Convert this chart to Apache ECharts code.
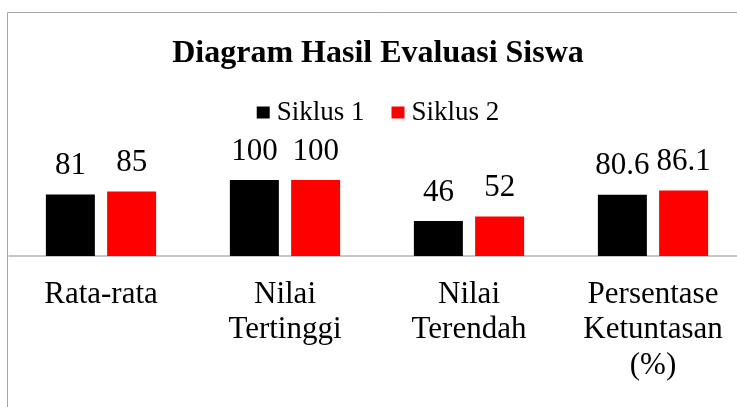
<!DOCTYPE html>
<html><head><meta charset="utf-8">
<script src="https://cdn.jsdelivr.net/npm/echarts@6/dist/echarts.min.js"></script>
<style>html,body{margin:0;padding:0;background:#fff;overflow:hidden}#c{width:756px;height:407px}</style>
</head><body><div id="c"></div>
<script>
const categories = ['Rata-rata', 'Nilai\nTertinggi', 'Nilai\nTerendah', 'Persentase\nKetuntasan\n(%)'];
const siklus1 = [81, 100, 46, 80.6];
const siklus2 = [85, 100, 52, 86.1];
const seriesNames = ['Siklus 1', 'Siklus 2'];
const titleText = 'Diagram Hasil Evaluasi Siswa';

const font = '"Liberation Serif","Times New Roman",serif';
const chart = echarts.init(document.getElementById('c'));
chart.setOption({
  animation: false,
  graphic: [{type:'rect', shape:{x:7.5,y:12.5,width:800,height:500}, style:{fill:'none', stroke:'#a6a6a6', lineWidth:1}, silent:true, z:-1}],
  title: {text: titleText, left: 'center', top: 38, padding: 0, textStyle:{fontFamily:font, fontWeight:'bold', fontSize:32, color:'#000'}},
  legend: {data: seriesNames, top: 99, left: 'center', padding: 0, itemWidth: 13, itemHeight: 12, itemGap: 27, icon: 'rect',
    textStyle:{fontFamily:font, fontSize:27, color:'#000', padding:[0,0,0,2]}},
  grid: {left: 9, width: 736, top: 104, height: 152},
  xAxis: {type:'category', data: categories, axisTick:{show:false},
    axisLine:{lineStyle:{color:'#b3b3b3', width:1.5}},
    axisLabel:{fontFamily:font, fontSize:31, color:'#000', lineHeight:35.5, margin:21, interval:0}},
  yAxis: {type:'value', min:0, max:200, show:false, splitLine:{show:false}},
  series: [
    {name: seriesNames[0], type:'bar', data: siklus1, barWidth:49, barGap:'25%', itemStyle:{color:'#000'},
      label:{show:true, position:'top', distance:13, fontFamily:font, fontSize:31, color:'#000'}},
    {name: seriesNames[1], type:'bar', data: siklus2, barWidth:49, itemStyle:{color:'#ff0000'},
      label:{show:true, position:'top', distance:13, fontFamily:font, fontSize:31, color:'#000'}}
  ]
});
</script></body></html>
